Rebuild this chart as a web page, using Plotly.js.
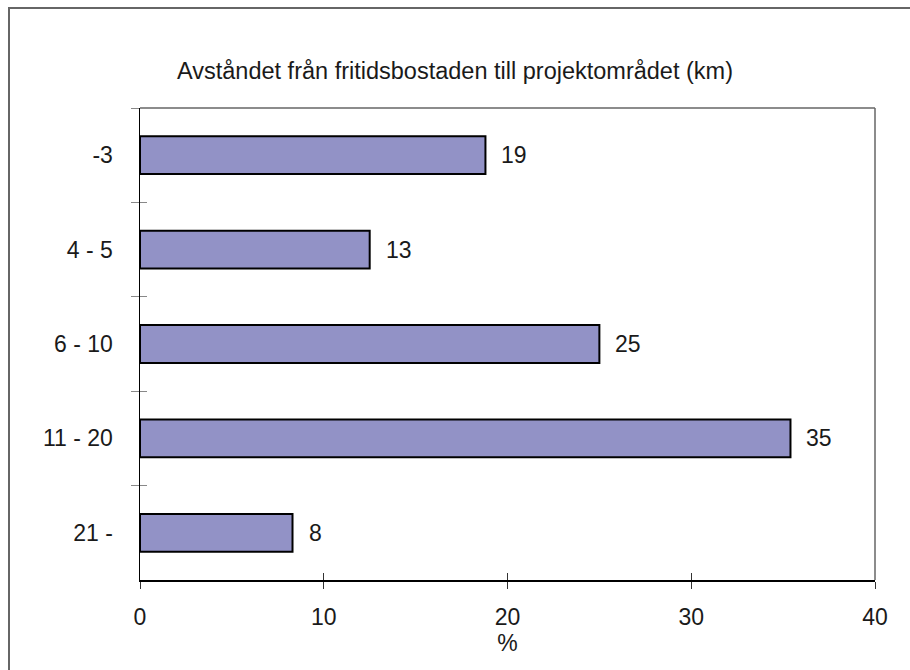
<!DOCTYPE html>
<html>
<head>
<meta charset="utf-8">
<script src="https://cdn.plot.ly/plotly-3.0.1.min.js"></script>
<style>
  html, body { margin: 0; padding: 0; background: #fff; }
  #wrap { position: relative; width: 910px; height: 670px; overflow: hidden; }
  #chart { position: absolute; left: 0; top: 0; width: 910px; height: 670px; }
  #frame { position: absolute; left: 8px; top: 7px; width: 960px; height: 720px;
           border-left: 2px solid #666; border-top: 2px solid #666; pointer-events: none; }
</style>
</head>
<body>
<div id="wrap">
  <div id="chart"></div>
  <div id="frame"></div>
</div>
<script>
// Data
const categories = ["-3", "4 - 5", "6 - 10", "11 - 20", "21 -"];
const values = [18.8, 12.5, 25.0, 35.4, 8.3];
const valueLabels = ["19", "13", "25", "35", "8"];
const xTickVals = [0, 10, 20, 30, 40];
const xTickText = ["0", "10", "20", "30", "40"];
const titleText = "Avståndet från fritidsbostaden till projektområdet (km)";
const xTitleText = "%";

const FONT = "Liberation Sans, Arial, sans-serif";
const TXT = "#1a1a1a";

const traces = [
  {
    type: "bar",
    orientation: "h",
    x: values,
    y: categories,
    marker: { color: "#9292C6", line: { color: "#000", width: 2 } },
    hoverinfo: "x+y",
    showlegend: false
  },
  {
    type: "scatter",
    mode: "markers",
    x: values,
    y: categories,
    xaxis: "x2",
    yaxis: "y2",
    marker: { opacity: 0 },
    hoverinfo: "skip",
    showlegend: false
  }
];

// annotations placed by category index on the category axis
const annotations = categories.map((c, i) => ({
  x: values[i], y: i, xref: "x", yref: "y",
  text: valueLabels[i], showarrow: false,
  xanchor: "left", yanchor: "middle", xshift: 14,
  font: { family: FONT, size: 23, color: TXT }
}));

const layout = {
  width: 910, height: 670,
  margin: { l: 140, r: 35, t: 108, b: 90 },
  paper_bgcolor: "#fff", plot_bgcolor: "#fff",
  font: { family: FONT, size: 23, color: TXT },
  title: {
    text: titleText,
    x: 0.5, xref: "container", xanchor: "center",
    y: 0.894, yref: "container", yanchor: "middle",
    font: { family: FONT, size: 23.5, color: TXT }
  },
  bargap: 0.6,
  showlegend: false,
  xaxis: {
    range: [0, 40],
    tickvals: xTickVals, ticktext: xTickText,
    ticks: "outside", ticklen: 7, tickwidth: 1, tickcolor: "#333",
    showline: true, linecolor: "#000", linewidth: 1.5,
    showgrid: false, zeroline: false,
    ticklabelstandoff: 9,
    tickfont: { family: FONT, size: 23, color: TXT },
    title: { text: xTitleText, standoff: 0, font: { family: FONT, size: 23, color: TXT } },
    fixedrange: true
  },
  xaxis2: {
    overlaying: "x", matches: "x", anchor: "y",
    tickvals: xTickVals,
    ticks: "inside", ticklen: 7, tickwidth: 1, tickcolor: "#333",
    showticklabels: false, showline: false, showgrid: false, zeroline: false
  },
  yaxis: {
    type: "category",
    categoryorder: "array", categoryarray: categories,
    autorange: "reversed",
    ticks: "outside", ticklen: 8, tickwidth: 1, tickcolor: "#888",
    tickson: "boundaries",
    showline: true, linecolor: "#000", linewidth: 1.5,
    showgrid: false, zeroline: false,
    ticklabelstandoff: 21,
    tickfont: { family: FONT, size: 23, color: TXT },
    fixedrange: true
  },
  yaxis2: {
    type: "category",
    overlaying: "y", matches: "y", anchor: "x",
    categoryorder: "array", categoryarray: categories,
    ticks: "inside", ticklen: 7, tickwidth: 1, tickcolor: "#888",
    tickson: "boundaries",
    showticklabels: false, showline: false, showgrid: false, zeroline: false
  },
  shapes: [
    { type: "line", xref: "paper", yref: "paper", x0: 0, x1: 1, y0: 1, y1: 1,
      line: { color: "#666", width: 1.5 } },
    { type: "line", xref: "paper", yref: "paper", x0: 1, x1: 1, y0: 0, y1: 1,
      line: { color: "#666", width: 1.5 } }
  ],
  annotations: annotations
};

Plotly.newPlot("chart", traces, layout, { displayModeBar: false, staticPlot: true });
</script>
</body>
</html>
